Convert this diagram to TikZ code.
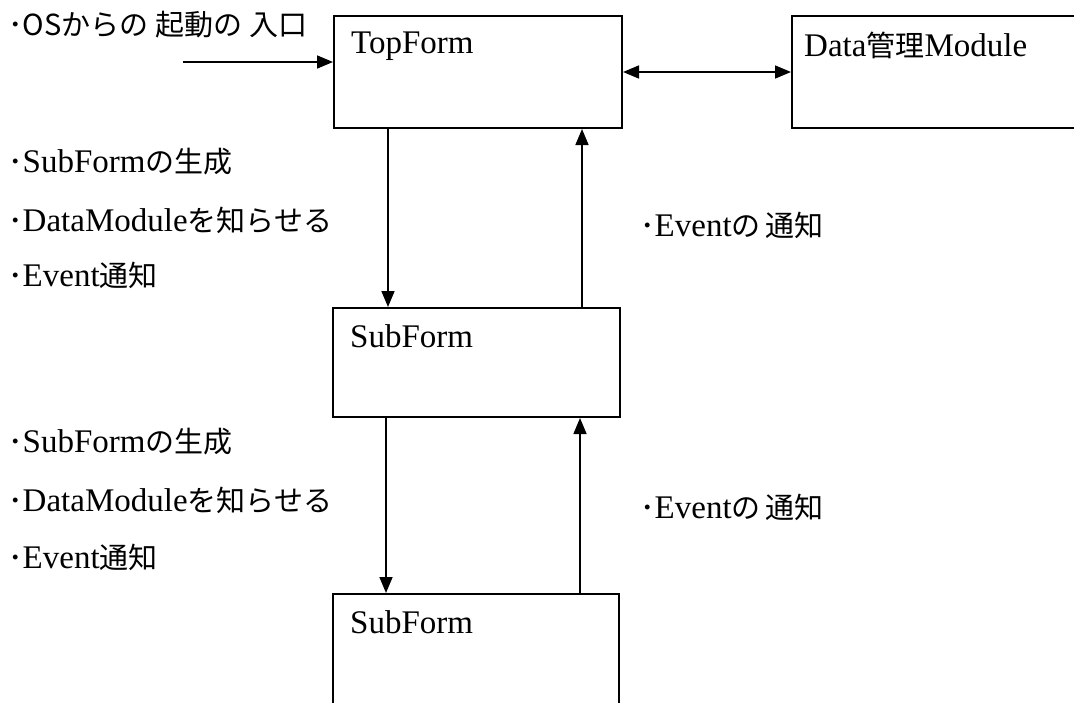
\documentclass[tikz,border=0pt]{standalone}
\usepackage{fontspec}
\setmainfont{Liberation Serif}
\newfontfamily\jpfont{Noto Sans CJK JP}
\newcommand{\ja}[1]{{\jpfont\fontsize{29}{34}\selectfont #1}}
\usetikzlibrary{arrows.meta}
\usetikzlibrary{positioning}
\tikzstyle{form_box} = [
    rectangle,
    draw=black,
    line width=2pt,
    anchor=north west,
    inner sep=0pt
]
\tikzstyle{box_text} = [
    anchor=north west,
    font=\fontsize{33}{38}\selectfont,
    inner sep=0pt
]
\tikzstyle{note_text} = [
    anchor=west,
    font=\fontsize{33}{38}\selectfont,
    inner sep=0pt
]
\tikzstyle{flow} = [
    line width=1.6pt,
    -{Triangle[length=16pt, width=13pt]}
]
\tikzstyle{flow_both} = [
    line width=1.6pt,
    {Triangle[length=16pt, width=13pt]}-{Triangle[length=16pt, width=13pt]}
]

\begin{document}
\begin{tikzpicture}[x=1pt, y=-1pt]
\useasboundingbox (0,0) rectangle (1074,702);
\clip (0,0) rectangle (1074,702);

% forms
\node [form_box, minimum width=288pt, minimum height=112pt] (top) at (333,15) {};
\node [form_box, minimum width=320pt, minimum height=112pt] (data) at (791,15) {};
\node [form_box, minimum width=287pt, minimum height=109pt] (sub1) at (332,307) {};
\node [form_box, minimum width=286pt, minimum height=160pt] (sub2) at (332,593) {};

\node [box_text] (top_text) at ([xshift=18pt, yshift=-17pt]top.north west) {TopForm};
\node [box_text] (data_text) at ([xshift=13pt, yshift=-17pt]data.north west) {Data\ja{管理}Module};
\node [box_text] (sub1_text) at ([xshift=18pt, yshift=-17pt]sub1.north west) {SubForm};
\node [box_text] (sub2_text) at ([xshift=18pt, yshift=-17pt]sub2.north west) {SubForm};

% notes
\node [note_text] (os_note) at (8,25) {\ja{･OSからの\hspace{7pt}起動の\hspace{7pt}入口}};
\node [note_text] (make1) at (8,162) {\ja{･}SubForm\ja{の生成}};
\node [note_text] (tell1) at (8,220) {\ja{･}DataModule\ja{を知らせる}};
\node [note_text] (event1) at (8,275) {\ja{･}Event\ja{通知}};
\node [note_text] (make2) at (8,442) {\ja{･}SubForm\ja{の生成}};
\node [note_text] (tell2) at (8,500) {\ja{･}DataModule\ja{を知らせる}};
\node [note_text] (event2) at (8,557) {\ja{･}Event\ja{通知}};
\node [note_text] (notify1) at (640,225) {\ja{･}Event\ja{の\hspace{5pt}通知}};
\node [note_text] (notify2) at (640,507) {\ja{･}Event\ja{の\hspace{5pt}通知}};

% connectors
\coordinate (os_entry) at (183,62);
\draw [flow] (os_entry) -- (os_entry -| top.west);
\draw [flow_both] (top.east) -- (data.west);
\draw [flow] ([xshift=55pt]top.south west) -- ([xshift=56pt]sub1.north west);
\draw [flow] ([xshift=-39pt]sub1.north east) -- ([xshift=-41pt]top.south east);
\draw [flow] ([xshift=54pt]sub1.south west) -- ([xshift=54pt]sub2.north west);
\draw [flow] ([xshift=-40pt]sub2.north east) -- ([xshift=-41pt]sub1.south east);
\end{tikzpicture}
\end{document}
